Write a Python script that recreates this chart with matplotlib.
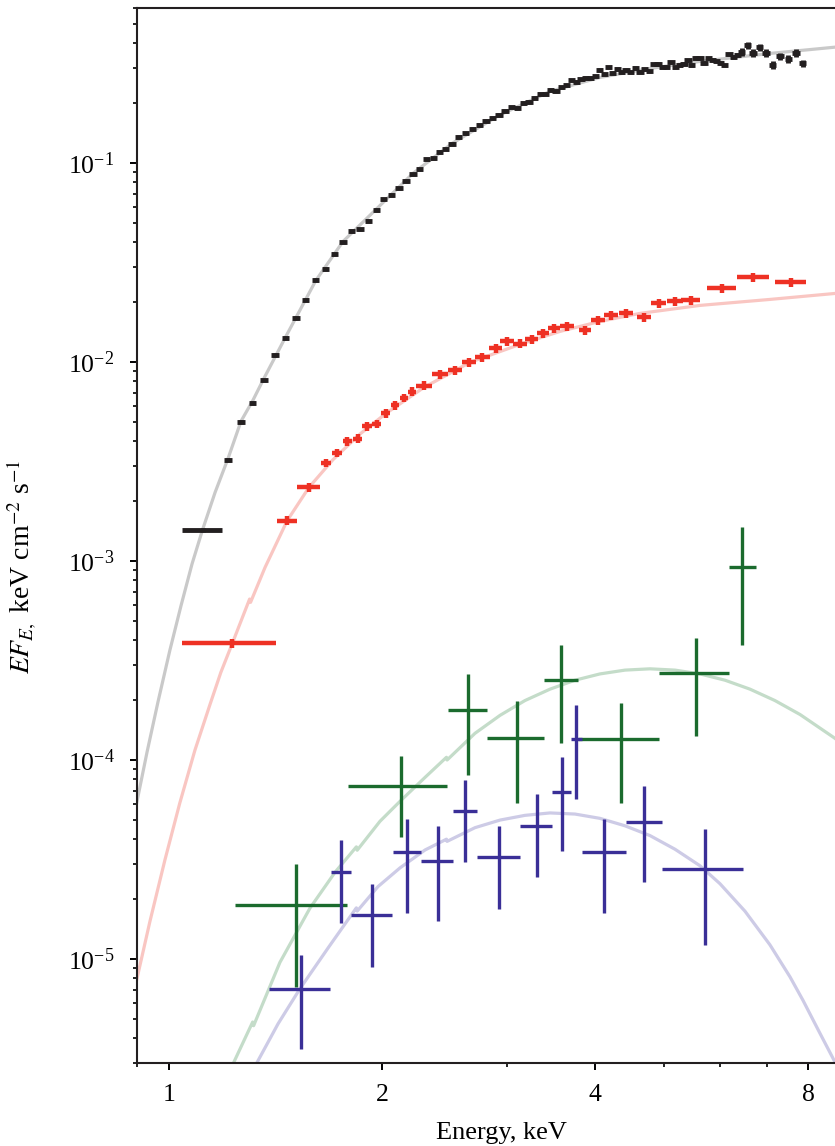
import matplotlib
matplotlib.use("Agg")
import matplotlib.pyplot as plt
from matplotlib import ticker
import numpy as np

plt.rcParams['font.family'] = ['Liberation Serif', 'DejaVu Serif']
plt.rcParams['mathtext.fontset'] = 'stix'

# black spectrum (keV, keV cm^-2 s^-1)
black_e = [1.117, 1.212, 1.264, 1.313, 1.363, 1.412, 1.462, 1.512, 1.561, 1.612,
           1.664, 1.713, 1.762, 1.812, 1.862, 1.913, 1.966, 2.009, 2.062, 2.113,
           2.162, 2.212, 2.262, 2.313, 2.363, 2.410, 2.460, 2.512, 2.567, 2.626,
           2.687, 2.745, 2.805, 2.868, 2.927, 2.984, 3.046, 3.106, 3.168, 3.227,
           3.288, 3.348, 3.408, 3.463, 3.523, 3.584, 3.648, 3.708, 3.767, 3.822,
           3.881, 3.945, 4.005, 4.062, 4.124, 4.183, 4.237, 4.301, 4.364, 4.425,
           4.493, 4.560, 4.630, 4.702, 4.773, 4.846, 4.910, 4.979, 5.051, 5.122,
           5.194, 5.269, 5.344, 5.414, 5.472, 5.552, 5.630, 5.703, 5.784, 5.867,
           5.943, 6.022, 6.100, 6.187, 6.274, 6.356, 6.449, 6.575, 6.690, 6.838,
           6.980, 7.134, 7.305, 7.504, 7.693, 7.863]
black_f = [1.43e-3, 3.21e-3, 5.0e-3, 6.22e-3, 8.09e-3, 0.01084, 0.01327, 0.01664, 0.0206, 0.0258,
           0.02946, 0.0349, 0.03996, 0.0455, 0.0464, 0.0513, 0.0581, 0.0657, 0.0694, 0.0746,
           0.0812, 0.0877, 0.0930, 0.1044, 0.1056, 0.1141, 0.1181, 0.1246, 0.1357, 0.1410,
           0.1489, 0.1552, 0.1633, 0.1691, 0.1743, 0.1834, 0.1905, 0.1890, 0.2011, 0.2025,
           0.2131, 0.2232, 0.2222, 0.2338, 0.2301, 0.2401, 0.2458, 0.2603, 0.2553, 0.2634,
           0.2686, 0.2686, 0.2727, 0.2946, 0.2791, 0.3026, 0.2847, 0.2981, 0.2857, 0.2946,
           0.2857, 0.3001, 0.2880, 0.2957, 0.2890, 0.3133, 0.3144, 0.3026, 0.3036, 0.3206,
           0.3026, 0.3108, 0.3144, 0.3281, 0.3122, 0.3385, 0.3370, 0.3195, 0.3358, 0.3308,
           0.3243, 0.3180, 0.3097, 0.3517, 0.3410, 0.3490, 0.3612, 0.3904, 0.3587, 0.3815,
           0.3570, 0.3108, 0.3438, 0.3348, 0.3587, 0.3170]
black_first_lo, black_first_hi = 1.042, 1.188
black_rel_de = 0.012
black_rel_df = [0.022] * 86 + [0.045] * 10

# red spectrum
red_e = [1.229, 1.469, 1.577, 1.668, 1.728, 1.787, 1.848, 1.906, 1.966, 2.026,
         2.087, 2.148, 2.207, 2.293, 2.415, 2.537, 2.655, 2.773, 2.895, 3.007,
         3.133, 3.256, 3.379, 3.503, 3.652, 3.872, 4.041, 4.215, 4.424, 4.693,
         4.926, 5.190, 5.466, 6.047, 6.690, 7.568]
red_de = [0.187, 0.049, 0.058, 0.027, 0.027, 0.028, 0.028, 0.030, 0.030, 0.030,
          0.030, 0.030, 0.030, 0.060, 0.065, 0.060, 0.060, 0.065, 0.065, 0.070,
          0.070, 0.070, 0.070, 0.070, 0.080, 0.080, 0.090, 0.090, 0.100, 0.100,
          0.120, 0.130, 0.170, 0.280, 0.350, 0.380]
red_f = [3.86e-4, 1.595e-3, 2.345e-3, 3.11e-3, 3.49e-3, 3.996e-3, 4.12e-3, 4.75e-3, 4.90e-3, 5.54e-3,
         6.06e-3, 6.62e-3, 7.10e-3, 7.61e-3, 8.68e-3, 9.08e-3, 9.97e-3, 0.01059, 0.01176, 0.01271,
         0.01237, 0.01305, 0.01394, 0.01477, 0.01512, 0.01443, 0.0162, 0.01717, 0.01757, 0.01678,
         0.01972, 0.0202, 0.0204, 0.02347, 0.02664, 0.02514]
red_rel_df = 0.05

# green spectrum: centre, bin edges, flux and its limits
green_e = [1.513, 2.130, 2.643, 3.103, 3.584, 4.353, 5.556, 6.454]
green_lo = [1.240, 1.789, 2.477, 2.818, 3.392, 3.785, 4.926, 6.186]
green_hi = [1.787, 2.474, 2.812, 3.392, 3.781, 4.926, 6.186, 6.754]
green_f = [1.862e-5, 7.38e-5, 1.778e-4, 1.296e-4, 2.52e-4, 1.27e-4, 2.73e-4, 9.30e-4]
green_fup = [2.99e-5, 1.052e-4, 2.70e-4, 1.972e-4, 3.80e-4, 1.93e-4, 4.09e-4, 1.477e-3]
green_flo = [7.23e-6, 4.12e-5, 8.37e-5, 6.08e-5, 1.223e-4, 6.06e-5, 1.315e-4, 3.77e-4]

# blue spectrum
blue_e = [1.537, 1.750, 1.938, 2.172, 2.397, 2.622, 2.927, 3.309, 3.593, 3.764, 4.120, 4.693, 5.722]
blue_lo = [1.385, 1.692, 1.808, 2.071, 2.274, 2.523, 2.727, 3.133, 3.482, 3.700, 3.835, 4.425, 4.975]
blue_hi = [1.689, 1.806, 2.068, 2.274, 2.523, 2.722, 3.133, 3.482, 3.700, 3.831, 4.425, 4.975, 6.475]
blue_f = [7.07e-6, 2.74e-5, 1.66e-5, 3.43e-5, 3.11e-5, 5.52e-5, 3.24e-5, 4.66e-5, 6.90e-5, 1.27e-4,
          3.44e-5, 4.86e-5, 2.82e-5]
blue_fup = [1.052e-5, 3.95e-5, 2.39e-5, 5.04e-5, 4.64e-5, 7.97e-5, 4.64e-5, 6.72e-5, 1.035e-4, 1.90e-4,
            5.04e-5, 7.38e-5, 4.49e-5]
blue_flo = [3.51e-6, 1.517e-5, 9.12e-6, 1.70e-5, 1.552e-5, 3.06e-5, 1.783e-5, 2.58e-5, 3.48e-5, 6.35e-5,
            1.70e-5, 2.44e-5, 1.172e-5]

# model curves (small steps = absorption edges)
gray_e = [0.9, 0.931, 0.965, 1.003, 1.040, 1.078, 1.115, 1.162, 1.212, 1.264, 1.314, 1.362,
          1.463, 1.613, 1.762, 1.968, 2.212, 2.512, 2.927, 3.455, 4.065, 4.784, 5.630,
          7.068, 8.735, 9.7]
gray_f = [6.06e-5, 1.094e-4, 1.963e-4, 3.565e-4, 5.97e-4, 9.68e-4, 1.43e-3, 2.215e-3, 3.28e-3,
          5.04e-3, 6.42e-3, 8.28e-3, 0.01346, 0.02574, 0.0404, 0.0592, 0.0888, 0.1256, 0.1737,
          0.2293, 0.2696, 0.2991, 0.3245, 0.3558, 0.3827, 0.39]
pink_e = [0.9, 0.940, 0.987, 1.036, 1.088, 1.143, 1.184, 1.229, 1.300, 1.304, 1.367, 1.469,
          1.577, 1.705, 1.862, 2.026, 2.293, 2.664, 3.133, 3.569, 4.065, 4.630, 5.630,
          7.068, 8.735, 9.7]
pink_f = [7.82e-6, 1.547e-5, 3.15e-5, 6.09e-5, 1.119e-4, 1.905e-4, 2.76e-4, 3.86e-4, 6.44e-4,
          6.2e-4, 9.29e-4, 1.596e-3, 2.345e-3, 3.23e-3, 4.35e-3, 5.52e-3, 7.46e-3, 9.97e-3,
          0.01227, 0.01426, 0.01601, 0.01757, 0.01927, 0.02065, 0.02213, 0.0226]
lgreen_e = [1.233, 1.313, 1.317, 1.435, 1.582, 1.717, 1.840, 1.845, 1.987, 2.121, 2.301, 2.467,
            2.472, 2.707, 2.937, 3.185, 3.455, 3.748, 4.065, 4.410, 4.784, 5.190, 5.630,
            6.107, 6.625, 7.184, 7.796, 8.735, 9.7]
lgreen_f = [2.99e-6, 4.82e-6, 4.62e-6, 9.62e-6, 1.80e-5, 2.73e-5, 3.66e-5, 3.52e-5, 4.92e-5,
            6.20e-5, 8.18e-5, 1.032e-4, 1.0e-4, 1.362e-4, 1.677e-4, 1.99e-4, 2.27e-4, 2.518e-4,
            2.708e-4, 2.83e-4, 2.873e-4, 2.83e-4, 2.708e-4, 2.518e-4, 2.27e-4, 1.99e-4,
            1.693e-4, 1.285e-4, 9.52e-5]
lav_e = [1.330, 1.426, 1.532, 1.678, 1.840, 1.845, 1.974, 2.121, 2.301, 2.467, 2.472, 2.707,
         2.937, 3.185, 3.455, 3.748, 4.065, 4.410, 4.784, 5.190, 5.630, 6.007, 6.517, 7.068,
         7.545, 7.870, 8.318, 8.735, 9.502]
lav_f = [2.99e-6, 4.72e-6, 7.10e-6, 1.135e-5, 1.807e-5, 1.74e-5, 2.31e-5, 2.87e-5, 3.53e-5,
         4.0e-5, 3.9e-5, 4.57e-5, 4.99e-5, 5.27e-5, 5.42e-5, 5.35e-5, 5.09e-5, 4.67e-5, 4.17e-5,
         3.56e-5, 2.94e-5, 2.39e-5, 1.738e-5, 1.178e-5, 8.13e-6, 6.20e-6, 4.23e-6, 3.03e-6, 2.14e-6]

fig = plt.figure(figsize=(8.35, 11.46), dpi=100)
ax = fig.add_axes([136.6 / 835, 83 / 1146, 730.6 / 835, 1054.7 / 1146])

ax.plot(gray_e, gray_f, color='#c9c9c9', lw=2.3, zorder=1)
ax.plot(pink_e, pink_f, color='#f9c6c2', lw=2.3, zorder=1)
ax.plot(lgreen_e, lgreen_f, color='#c4dcc9', lw=2.3, zorder=1)
ax.plot(lav_e, lav_f, color='#cdcbe6', lw=2.3, zorder=1)

be = np.array(black_e)
bf = np.array(black_f)
bxerr_lo = be * black_rel_de
bxerr_hi = be * black_rel_de
bxerr_lo[0] = be[0] - black_first_lo
bxerr_hi[0] = black_first_hi - be[0]
byerr = bf * np.array(black_rel_df)
ax.errorbar(be, bf, xerr=[bxerr_lo, bxerr_hi], yerr=byerr, fmt='none',
            ecolor='#231f20', elinewidth=3.5, capsize=0, zorder=3)

re = np.array(red_e)
rf = np.array(red_f)
ax.errorbar(re, rf, xerr=red_de, yerr=rf * red_rel_df, fmt='none',
            ecolor='#ee3124', elinewidth=3.2, capsize=0, zorder=3)

ge = np.array(green_e)
gf = np.array(green_f)
ax.errorbar(ge, gf, xerr=[ge - np.array(green_lo), np.array(green_hi) - ge],
            yerr=[gf - np.array(green_flo), np.array(green_fup) - gf], fmt='none',
            ecolor='#1b6b2e', elinewidth=2.4, capsize=0, zorder=3)

ue = np.array(blue_e)
uf = np.array(blue_f)
ax.errorbar(ue, uf, xerr=[ue - np.array(blue_lo), np.array(blue_hi) - ue],
            yerr=[uf - np.array(blue_flo), np.array(blue_fup) - uf], fmt='none',
            ecolor='#3a2f97', elinewidth=2.4, capsize=0, zorder=3)

ax.set_xscale('log')
ax.set_yscale('log')
ax.set_xlim(0.9, 9.7)
ax.set_ylim(3.0e-6, 0.6)

ax.xaxis.set_major_locator(ticker.FixedLocator([1, 2, 4, 8]))
ax.xaxis.set_major_formatter(ticker.FixedFormatter(['1', '2', '4', '8']))
ax.xaxis.set_minor_locator(ticker.FixedLocator([0.9, 3, 5, 6, 7, 9]))
ax.xaxis.set_minor_formatter(ticker.NullFormatter())
ax.yaxis.set_major_locator(ticker.LogLocator(base=10, numticks=12))
ax.yaxis.set_minor_locator(ticker.LogLocator(base=10, subs=np.arange(2, 10), numticks=12))
ax.yaxis.set_minor_formatter(ticker.NullFormatter())

ax.tick_params(which='major', direction='out', length=5, width=1.4, labelsize=18.5,
               top=False, right=False)
ax.tick_params(axis='y', which='major', pad=11)
ax.tick_params(axis='x', which='major', pad=10)
ax.tick_params(which='minor', direction='out', length=3, width=1.2, top=False, right=False)
for s in ax.spines.values():
    s.set_linewidth(1.5)
    s.set_color('#231f20')

ax.set_xlabel('Energy, keV', fontsize=19)
ax.set_ylabel(r'$EF_{E,}$ keV cm$^{-2}$ s$^{-1}$', fontsize=20)
ax.xaxis.set_label_coords(0.5, -0.056)
ax.yaxis.set_label_coords(-0.135, 0.47)

fig.savefig('out.png', dpi=100)
